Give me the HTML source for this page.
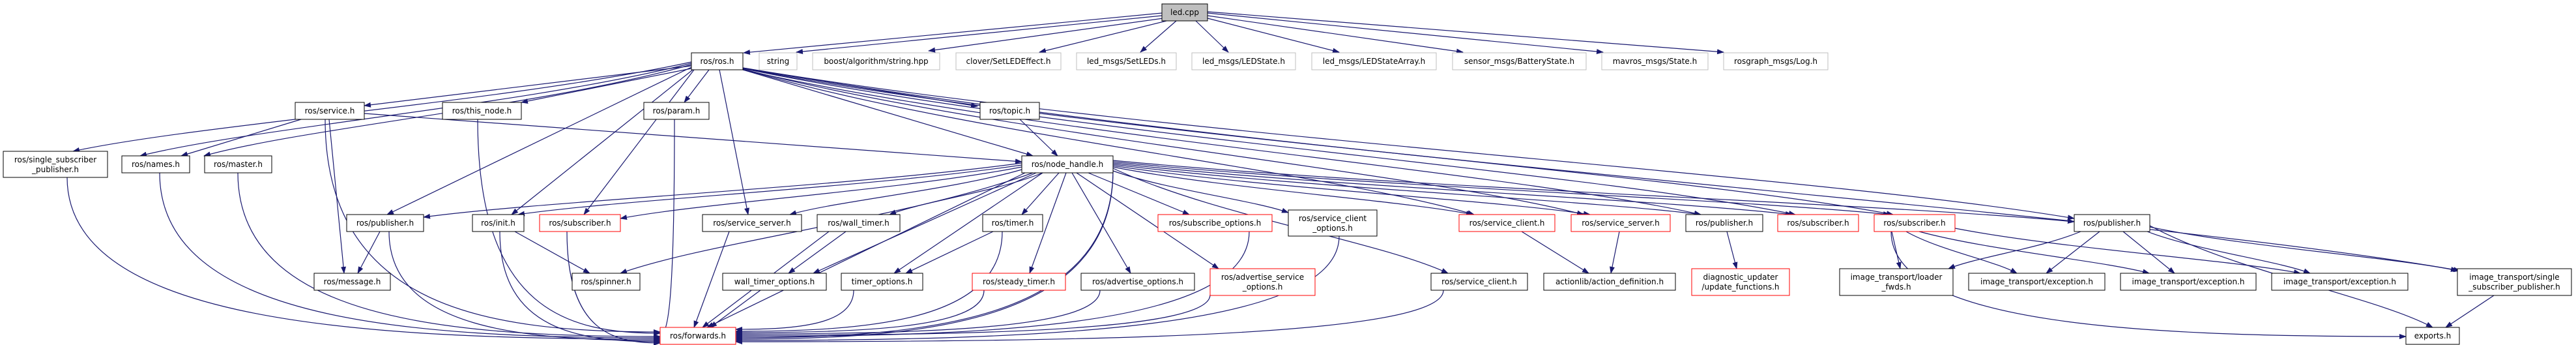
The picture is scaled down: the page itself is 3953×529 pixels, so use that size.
<!DOCTYPE html>
<html><head><meta charset="utf-8">
<style>
html,body{margin:0;padding:0;background:#fff;}
svg{display:block;}
text{font-family:"DejaVu Sans","Liberation Sans",sans-serif;font-size:12px;fill:#000;}
</style></head>
<body>
<svg id="g" width="3953" height="529" viewBox="0 0 3953 529" xmlns="http://www.w3.org/2000/svg">
<defs>
<marker id="a" markerUnits="userSpaceOnUse" markerWidth="11" markerHeight="8" refX="10" refY="4" orient="auto">
<path d="M0,0 L11,4 L0,8 z" fill="#191970"/>
</marker>
</defs>
<g id="edges" fill="none" stroke="#191970" stroke-width="1.2"></g>
<g id="nodes">
<rect x="1783" y="6" width="70" height="26" fill="#bfbfbf" stroke="#000"/><text x="1818" y="23" text-anchor="middle">led.cpp</text>
<rect x="1061" y="81" width="79" height="26" fill="#fff" stroke="#000"/><text x="1100.5" y="98" text-anchor="middle">ros/ros.h</text>
<rect x="1165" y="81" width="58" height="26" fill="#fff" stroke="#bfbfbf"/><text x="1194" y="98" text-anchor="middle">string</text>
<rect x="1247" y="81" width="195" height="26" fill="#fff" stroke="#bfbfbf"/><text x="1344.5" y="98" text-anchor="middle">boost/algorithm/string.hpp</text>
<rect x="1467" y="81" width="161" height="26" fill="#fff" stroke="#bfbfbf"/><text x="1547.5" y="98" text-anchor="middle">clover/SetLEDEffect.h</text>
<rect x="1652" y="81" width="153" height="26" fill="#fff" stroke="#bfbfbf"/><text x="1728.5" y="98" text-anchor="middle">led_msgs/SetLEDs.h</text>
<rect x="1829" y="81" width="159" height="26" fill="#fff" stroke="#bfbfbf"/><text x="1908.5" y="98" text-anchor="middle">led_msgs/LEDState.h</text>
<rect x="2013" y="81" width="191" height="26" fill="#fff" stroke="#bfbfbf"/><text x="2108.5" y="98" text-anchor="middle">led_msgs/LEDStateArray.h</text>
<rect x="2229" y="81" width="205" height="26" fill="#fff" stroke="#bfbfbf"/><text x="2331.5" y="98" text-anchor="middle">sensor_msgs/BatteryState.h</text>
<rect x="2458" y="81" width="163" height="26" fill="#fff" stroke="#bfbfbf"/><text x="2539.5" y="98" text-anchor="middle">mavros_msgs/State.h</text>
<rect x="2645" y="81" width="160" height="26" fill="#fff" stroke="#bfbfbf"/><text x="2725" y="98" text-anchor="middle">rosgraph_msgs/Log.h</text>

<rect x="453" y="157" width="106" height="26" fill="#fff" stroke="#000"/><text x="506" y="174" text-anchor="middle">ros/service.h</text>
<rect x="679" y="157" width="121" height="26" fill="#fff" stroke="#000"/><text x="739.5" y="174" text-anchor="middle">ros/this_node.h</text>
<rect x="988" y="157" width="100" height="26" fill="#fff" stroke="#000"/><text x="1038" y="174" text-anchor="middle">ros/param.h</text>
<rect x="1504" y="157" width="91" height="26" fill="#fff" stroke="#000"/><text x="1549.5" y="174" text-anchor="middle">ros/topic.h</text>

<rect x="5" y="232" width="160" height="40" fill="#fff" stroke="#000"/><text x="85" y="249" text-anchor="middle">ros/single_subscriber</text><text x="85" y="264" text-anchor="middle">_publisher.h</text>
<rect x="187" y="239" width="104" height="26" fill="#fff" stroke="#000"/><text x="239" y="256" text-anchor="middle">ros/names.h</text>
<rect x="314" y="239" width="103" height="26" fill="#fff" stroke="#000"/><text x="365.5" y="256" text-anchor="middle">ros/master.h</text>
<rect x="1568" y="239" width="140" height="26" fill="#fff" stroke="#000"/><text x="1638" y="256" text-anchor="middle">ros/node_handle.h</text>

<rect x="532" y="329" width="118" height="26" fill="#fff" stroke="#000"/><text x="591" y="346" text-anchor="middle">ros/publisher.h</text>
<rect x="725" y="329" width="79" height="26" fill="#fff" stroke="#000"/><text x="764.5" y="346" text-anchor="middle">ros/init.h</text>
<rect x="828" y="329" width="124" height="26" fill="#fff" stroke="#ff0000"/><text x="890" y="346" text-anchor="middle">ros/subscriber.h</text>
<rect x="1078" y="329" width="152" height="26" fill="#fff" stroke="#000"/><text x="1154" y="346" text-anchor="middle">ros/service_server.h</text>
<rect x="1254" y="329" width="127" height="26" fill="#fff" stroke="#000"/><text x="1317.5" y="346" text-anchor="middle">ros/wall_timer.h</text>
<rect x="1508" y="329" width="92" height="26" fill="#fff" stroke="#000"/><text x="1554" y="346" text-anchor="middle">ros/timer.h</text>
<rect x="1777" y="329" width="175" height="26" fill="#fff" stroke="#ff0000"/><text x="1864.5" y="346" text-anchor="middle">ros/subscribe_options.h</text>
<rect x="1977" y="322" width="136" height="40" fill="#fff" stroke="#000"/><text x="2045" y="339" text-anchor="middle">ros/service_client</text><text x="2045" y="354" text-anchor="middle">_options.h</text>
<rect x="2239" y="329" width="147" height="26" fill="#fff" stroke="#ff0000"/><text x="2312.5" y="346" text-anchor="middle">ros/service_client.h</text>
<rect x="2411" y="329" width="152" height="26" fill="#fff" stroke="#ff0000"/><text x="2487" y="346" text-anchor="middle">ros/service_server.h</text>
<rect x="2587" y="329" width="118" height="26" fill="#fff" stroke="#000"/><text x="2646" y="346" text-anchor="middle">ros/publisher.h</text>
<rect x="2728" y="329" width="124" height="26" fill="#fff" stroke="#ff0000"/><text x="2790" y="346" text-anchor="middle">ros/subscriber.h</text>
<rect x="2876" y="329" width="124" height="26" fill="#fff" stroke="#ff0000"/><text x="2938" y="346" text-anchor="middle">ros/subscriber.h</text>
<rect x="3183" y="329" width="116" height="26" fill="#fff" stroke="#000"/><text x="3241" y="346" text-anchor="middle">ros/publisher.h</text>

<rect x="482" y="419" width="117" height="26" fill="#fff" stroke="#000"/><text x="540.5" y="436" text-anchor="middle">ros/message.h</text>
<rect x="878" y="419" width="104" height="26" fill="#fff" stroke="#000"/><text x="930" y="436" text-anchor="middle">ros/spinner.h</text>
<rect x="1109" y="419" width="159" height="26" fill="#fff" stroke="#000"/><text x="1188.5" y="436" text-anchor="middle">wall_timer_options.h</text>
<rect x="1291" y="419" width="125" height="26" fill="#fff" stroke="#000"/><text x="1353.5" y="436" text-anchor="middle">timer_options.h</text>
<rect x="1492" y="419" width="143" height="26" fill="#fff" stroke="#ff0000"/><text x="1563.5" y="436" text-anchor="middle">ros/steady_timer.h</text>
<rect x="1659" y="419" width="174" height="26" fill="#fff" stroke="#000"/><text x="1746" y="436" text-anchor="middle">ros/advertise_options.h</text>
<rect x="1857" y="412" width="161" height="41" fill="#fff" stroke="#ff0000"/><text x="1937.5" y="429" text-anchor="middle">ros/advertise_service</text><text x="1937.5" y="444" text-anchor="middle">_options.h</text>
<rect x="2196" y="419" width="148" height="26" fill="#fff" stroke="#000"/><text x="2270" y="436" text-anchor="middle">ros/service_client.h</text>
<rect x="2369" y="419" width="202" height="26" fill="#fff" stroke="#000"/><text x="2470" y="436" text-anchor="middle">actionlib/action_definition.h</text>
<rect x="2596" y="412" width="150" height="41" fill="#fff" stroke="#ff0000"/><text x="2671" y="429" text-anchor="middle">diagnostic_updater</text><text x="2671" y="444" text-anchor="middle">/update_functions.h</text>
<rect x="2823" y="412" width="174" height="41" fill="#fff" stroke="#000"/><text x="2910" y="429" text-anchor="middle">image_transport/loader</text><text x="2910" y="444" text-anchor="middle">_fwds.h</text>
<rect x="3021" y="419" width="209" height="26" fill="#fff" stroke="#000"/><text x="3125.5" y="436" text-anchor="middle">image_transport/exception.h</text>
<rect x="3254" y="419" width="208" height="26" fill="#fff" stroke="#000"/><text x="3358" y="436" text-anchor="middle">image_transport/exception.h</text>
<rect x="3486" y="419" width="209" height="26" fill="#fff" stroke="#000"/><text x="3590.5" y="436" text-anchor="middle">image_transport/exception.h</text>
<rect x="3771" y="412" width="175" height="41" fill="#fff" stroke="#000"/><text x="3858.5" y="429" text-anchor="middle">image_transport/single</text><text x="3858.5" y="444" text-anchor="middle">_subscriber_publisher.h</text>

<rect x="1013" y="502" width="116" height="26" fill="#fff" stroke="#ff0000"/><text x="1071" y="519" text-anchor="middle">ros/forwards.h</text>
<rect x="3692" y="502" width="82" height="26" fill="#fff" stroke="#000"/><text x="3733" y="519" text-anchor="middle">exports.h</text>
</g>
</svg>
<script>
var E=[
[1783,20,1141,81,'s'],[1783,24,1222,80,'s'],[1785,28,1425,78,'s'],[1790,32,1595,80,'s'],[1805,32,1750,80,'s'],[1835,32,1885,80,'s'],
[1853,28,2055,80,'s'],[1853,24,2245,80,'s'],[1853,20,2460,80,'s'],[1853,18,2645,80,'s'],
[1061,95,112,232,'v'],[1061,97,215,239,'v'],[1061,99,313,239,'v'],[1061,101,559,162,'s'],[1061,105,800,157,'s'],
[1088,107,1050,157,'v'],[1061,103,594,329,'v'],[1063,107,785,329,'v'],[1065,107,896,329,'v'],
[1104,107,1148,329,'v'],[1140,105,1500,163,'s'],[1140,107,1585,239,'s'],
[1140,106,2262,329,'v'],[1140,106,2430,329,'v'],[1140,107,2610,329,'v'],[1140,105,2755,329,'v'],[1140,105,2905,329,'v'],[1140,104,3183,335,'v'],[1140,104,3775,415,'v'],
[462,183,278,239,'s'],[505,183,528,419,'v'],[499,183,1013,509,'h'],[559,174,1568,248,'s'],
[733,183,1013,511,'h'],[1035,183,1013,513,'h'],[103,272,1013,520,'h'],[245,265,1013,518,'h'],[365,265,1013,516,'h'],
[1565,183,1623,239,'v'],
[1568,250,650,333,'v'],[1568,253,795,329,'v'],[1568,256,952,335,'v'],[1585,265,952,419,'v'],[1573,265,1085,502,'v'],
[1568,260,1212,329,'v'],[1600,265,1365,329,'v'],[1590,265,1248,419,'v'],[1600,265,1372,419,'v'],[1625,265,1568,329,'v'],
[1636,265,1580,419,'v'],[1645,265,1735,419,'v'],[1652,265,1870,412,'v'],[1670,265,1825,329,'v'],[1708,262,1977,326,'v'],
[1708,258,2222,419,'v'],[1708,256,2260,329,'v'],[1708,254,2440,329,'v'],[1708,252,2610,329,'v'],[1708,250,2750,329,'v'],[1708,248,2900,329,'v'],[1708,246,3183,340,'v'],
[1708,260,1129,518,'h'],[1708,262,1129,520,'h'],
[583,355,549,419,'v'],[597,355,1013,522,'h'],[767,355,1013,524,'h'],[790,355,905,419,'v'],[870,355,1013,526,'h'],
[1119,355,1065,502,'v'],[1272,355,1078,502,'v'],[1298,355,1210,419,'v'],[1524,355,1390,419,'v'],[1538,355,1129,508,'h'],
[1167,445,1090,502,'v'],[1310,445,1129,505,'h'],[1510,445,1129,510,'h'],[1688,445,1129,512,'h'],[1857,452,1129,514,'h'],
[1917,355,1129,516,'h'],[2055,362,1129,522,'h'],[2215,445,1129,524,'h'],
[2335,355,2438,419,'v'],[2485,355,2472,419,'v'],[2650,355,2665,412,'v'],
[2903,355,2916,412,'v'],[2925,355,3095,419,'v'],[2945,355,3298,419,'v'],[3000,350,3530,419,'v'],[2902,355,3692,516,'h'],
[3193,355,2990,412,'v'],[3222,355,3140,419,'v'],[3258,355,3337,419,'v'],[3295,355,3545,419,'v'],[3299,348,3771,415,'v'],[3299,346,3733,502,'v'],
[3827,453,3753,502,'v']
];
var g=document.getElementById('edges'),s='';
E.forEach(function(e){var x1=e[0],y1=e[1],x2=e[2],y2=e[3],d,dx=x2-x1,dy=y2-y1;
if(e[4]=='h'){d='M'+x1+','+y1+' C'+x1+','+(y1+dy*0.9)+' '+((x1+x2)/2)+','+y2+' '+x2+','+y2;}
else if(e[4]=='s'){d='M'+x1+','+y1+' L'+x2+','+y2;}
else if(Math.abs(dx)>2.5*Math.abs(dy)){d='M'+x1+','+y1+' C'+(x1+dx*0.3)+','+(y1+dy*0.45)+' '+(x2-dx*0.2)+','+(y2-dy*0.3)+' '+x2+','+y2;}
else{d='M'+x1+','+y1+' L'+x2+','+y2;}
s+='<path d="'+d+'" marker-end="url(#a)"/>';});
g.innerHTML=s;
</script>
</body></html>
